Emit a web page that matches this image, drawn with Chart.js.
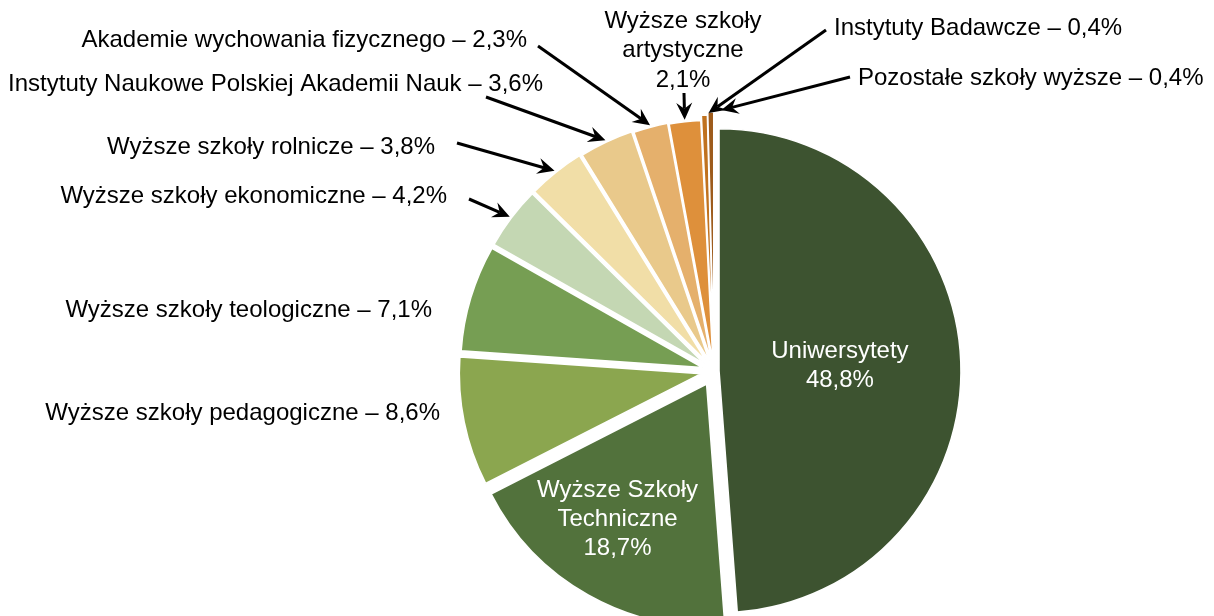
<!DOCTYPE html>
<html>
<head>
<meta charset="utf-8">
<script src="https://cdn.jsdelivr.net/npm/chart.js@4.4.0/dist/chart.umd.min.js"></script>
<style>
  html, body { margin: 0; padding: 0; background: #fff; }
</style>
</head>
<body>
<canvas id="schoolsChart" width="1214" height="616"></canvas>
<script>
// udział typów uczelni (%)
const categories = [
  "Uniwersytety",
  "Wyższe Szkoły\nTechniczne",
  "Wyższe szkoły pedagogiczne",
  "Wyższe szkoły teologiczne",
  "Wyższe szkoły ekonomiczne",
  "Wyższe szkoły rolnicze",
  "Instytuty Naukowe Polskiej Akademii Nauk",
  "Akademie wychowania fizycznego",
  "Wyższe szkoły\nartystyczne",
  "Instytuty Badawcze",
  "Pozostałe szkoły wyższe"
];
const shares = [48.8, 18.7, 8.6, 7.1, 4.2, 3.8, 3.6, 2.3, 2.1, 0.4, 0.4];

const colors = ["#3d5330", "#52723c", "#8ba64f", "#769e53", "#c4d7b3", "#f1dea7",
                "#e9c98b", "#e5b06c", "#de903b", "#c0721f", "#9d5b1b"];
// explosion of each slice, px
const explode = [5, 15, 13, 12, 12, 12, 11, 10, 9, 14, 17];

// where the labels go
const labelPos = [
  {inside: true, r: 0.5, turn: 0},
  {inside: true, r: 0.67, turn: 4},
  {x: 440, y: 413, align: "right"},
  {x: 432, y: 310, align: "right"},
  {x: 447, y: 196, align: "right", from: [469, 199]},
  {x: 435, y: 147, align: "right", from: [457, 143]},
  {x: 543, y: 84, align: "right", from: [486, 97]},
  {x: 527, y: 40, align: "right", from: [538, 46]},
  {x: 683, y: 21, align: "center", from: [684, 93]},
  {x: 834, y: 28, align: "left", from: [826, 30], turn: 1},
  {x: 858, y: 78, align: "left", from: [850, 77], turn: 2.5}
];

const FONT = "24px 'Liberation Sans', Arial, sans-serif";
const pct = v => v.toFixed(1).replace(".", ",") + "%";

function shiftOf(arc, i) {
  const mid = (arc.startAngle + arc.endAngle) / 2;
  return {dx: Math.cos(mid) * explode[i], dy: Math.sin(mid) * explode[i], mid};
}

function drawArrow(ctx, x1, y1, x2, y2) {
  const a = Math.atan2(y2 - y1, x2 - x1);
  const len = 17, wing = 8, notch = 11;
  const c = Math.cos(a), s = Math.sin(a);
  ctx.beginPath();
  ctx.moveTo(x1, y1);
  ctx.lineTo(x2 - c * notch, y2 - s * notch);
  ctx.stroke();
  ctx.beginPath();
  ctx.moveTo(x2, y2);
  ctx.lineTo(x2 - c * len - s * wing, y2 - s * len + c * wing);
  ctx.lineTo(x2 - c * notch, y2 - s * notch);
  ctx.lineTo(x2 - c * len + s * wing, y2 - s * len - c * wing);
  ctx.closePath();
  ctx.fill();
}

// wysunięte wycinki - rysujemy sami, przesuwając każdy łuk
const explodePlugin = {
  id: "explode",
  beforeDatasetDraw(chart, args) {
    const ctx = chart.ctx;
    args.meta.data.forEach((arc, i) => {
      const sh = shiftOf(arc, i);
      ctx.save();
      ctx.translate(sh.dx, sh.dy);
      arc.draw(ctx, chart.chartArea);
      ctx.restore();
    });
    return false;
  }
};

const labelPlugin = {
  id: "pieLabels",
  afterDatasetsDraw(chart) {
    const ctx = chart.ctx;
    const arcs = chart.getDatasetMeta(0).data;
    ctx.save();
    ctx.font = FONT;
    ctx.textBaseline = "middle";
    ctx.lineWidth = 3;
    ctx.strokeStyle = "#000";
    arcs.forEach((arc, i) => {
      const lp = labelPos[i];
      const sh = shiftOf(arc, i);
      const name = categories[i];
      const stacked = name.includes("\n") || lp.inside;
      const lines = stacked ? [...name.split("\n"), pct(shares[i])] : [name + " – " + pct(shares[i])];
      const cx = arc.x + sh.dx, cy = arc.y + sh.dy;
      const R = arc.outerRadius;
      if (lp.inside) {
        const ang = sh.mid + lp.turn * Math.PI / 180;
        const px = cx + Math.cos(ang) * R * lp.r;
        const py = cy + Math.sin(ang) * R * lp.r;
        ctx.fillStyle = "#fff";
        ctx.textAlign = "center";
        const lh = 29;
        lines.forEach((t, k) => ctx.fillText(t, px, py + (k - (lines.length - 1) / 2) * lh));
        return;
      }
      ctx.fillStyle = "#000";
      ctx.textAlign = lp.align;
      lines.forEach((t, k) => ctx.fillText(t, lp.x, lp.y + k * 29.5));
      if (lp.from) {
        const ang = sh.mid + (lp.turn || 0) * Math.PI / 180;
        const tx = cx + Math.cos(ang) * (R + 2);
        const ty = cy + Math.sin(ang) * (R + 2);
        drawArrow(ctx, lp.from[0], lp.from[1], tx, ty);
      }
    });
    ctx.restore();
  }
};

new Chart(document.getElementById("schoolsChart"), {
  type: "pie",
  data: {
    labels: categories,
    datasets: [{
      data: shares,
      backgroundColor: colors,
      borderColor: "#ffffff",
      borderWidth: 1.6
    }]
  },
  options: {
    responsive: false,
    animation: false,
    radius: 242,
    layout: {padding: {left: 220, right: 6, top: 130, bottom: 4}},
    plugins: {
      legend: {display: false},
      tooltip: {enabled: false}
    }
  },
  plugins: [explodePlugin, labelPlugin]
});
</script>
</body>
</html>
